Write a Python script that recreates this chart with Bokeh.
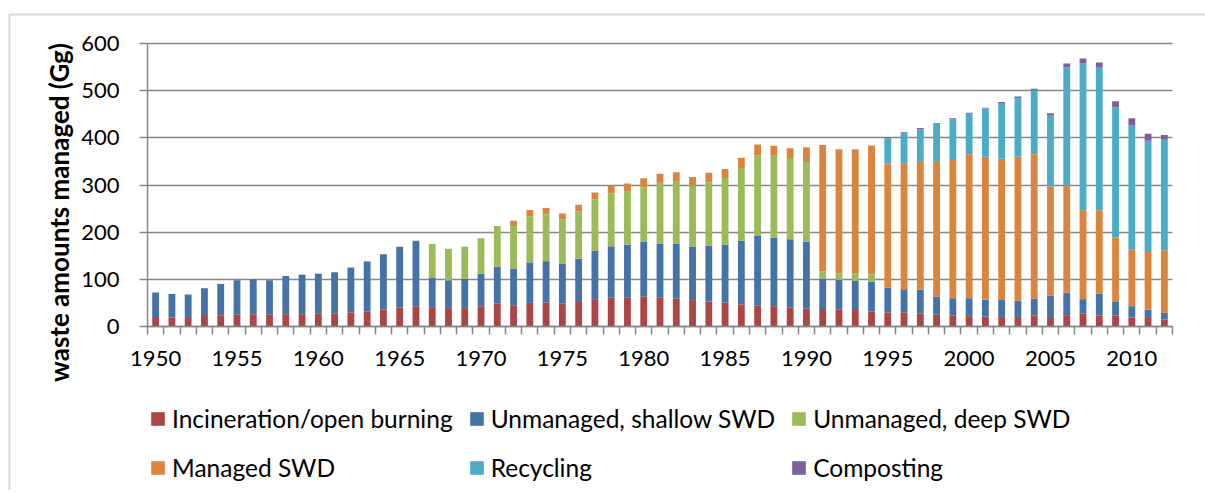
from bokeh.plotting import figure
from bokeh.models import (ColumnDataSource, Range1d, FixedTicker, Legend, LegendItem,
                          BoxAnnotation, Label)
from bokeh.embed import file_html
from bokeh.resources import INLINE

years = list(range(1950, 2013))

incineration = [20, 19, 18, 22, 23, 25, 26, 25, 26, 26, 27, 28, 30, 32, 36, 40, 43, 41, 39, 39,
                43, 49, 45, 50, 51, 49, 52, 58, 61, 62, 64, 61, 59, 56, 53, 51, 47, 44, 43, 40,
                38, 37, 36, 35, 32, 30, 30, 28, 25, 23, 22, 21, 20, 18, 23, 18, 24, 28, 23, 23,
                19, 20, 15]
unmanaged_shallow = [52, 50, 50, 59, 67, 73, 74, 73, 81, 84, 85, 87, 95, 106, 117, 129, 139, 63, 59, 62,
                     69, 78, 78, 86, 87.5, 84.6, 92, 103, 109, 112, 116, 115, 117, 113.6, 118.7, 123, 134.6, 149, 145.7, 145,
                     141.5, 64.8, 63, 62.5, 63.4, 52.7, 49, 49.7, 38.6, 37, 38, 36, 36, 37, 36, 47.7, 48, 30, 47, 29,
                     24, 16, 14]
unmanaged_deep = [0, 0, 0, 0, 0, 0, 0, 0, 0, 0, 0, 0, 0, 0, 0, 0, 0, 71, 67, 68,
                  75, 86, 90, 98, 99.5, 93.4, 100.5, 107.6, 112.7, 111.5, 115, 128.6, 131, 128.4, 134.3, 141, 154.4, 170, 173.3, 172,
                  169.5, 14.8, 14, 14.2, 14.6, 0, 0, 0, 0, 0, 0, 0, 0, 0, 0, 0, 0, 0, 0, 0,
                  0, 0, 0]
managed_swd = [0, 0, 0, 0, 0, 0, 0, 0, 0, 0, 0, 0, 0, 0, 0, 0, 0, 0, 0, 0,
               0, 0, 11, 13, 13, 12.6, 13.5, 15.4, 16.3, 17.5, 19.5, 19.1, 20, 19, 19.8, 19, 21.6, 23, 21, 21,
               31, 268.4, 263, 264.3, 273.7, 262.9, 267, 273.3, 287.4, 293, 305, 303, 299.5, 305, 306, 231.1, 227, 188.6, 176.6, 136.7,
               121, 124, 132.8]
recycling = [0] * 45 + [53.4, 64.6, 67, 78.7, 86.6, 86, 102, 118.5, 124, 136, 149.8, 250, 311.4, 301.8, 276.3,
                        262, 234, 234]
composting = [0] * 45 + [1.5, 2, 3, 2, 2, 2, 1.6, 2, 3.6, 3, 5.7, 8.6, 10, 11.3, 12.7,
                         15.7, 14.5, 10.2]

series_names = ["Incineration/open burning", "Unmanaged, shallow SWD", "Unmanaged, deep SWD",
                "Managed SWD", "Recycling", "Composting"]
series_keys = ["incineration", "unmanaged_shallow", "unmanaged_deep", "managed_swd", "recycling", "composting"]
colors = ["#AA4643", "#4572A7", "#9BBB59", "#DB843D", "#4BACC6", "#7D5F9C"]

x_tick_years = [1950, 1955, 1960, 1965, 1970, 1975, 1980, 1985, 1990, 1995, 2000, 2005, 2010]
y_ticks = [0, 100, 200, 300, 400, 500, 600]
y_label = "waste amounts managed (Gg)"

# layout constants (pixels on the canvas)
W, H = 1205, 490
FRAME_L, FRAME_R, FRAME_T, FRAME_B = 147, 1172, 43, 326

x0, x1 = years[0] - 0.5, years[-1] + 0.5
y0, y1 = y_ticks[0], y_ticks[-1]
kx = (FRAME_R - FRAME_L) / (x1 - x0)
ky = (FRAME_B - FRAME_T) / (y1 - y0)

source = ColumnDataSource(dict(year=years, incineration=incineration,
                               unmanaged_shallow=unmanaged_shallow, unmanaged_deep=unmanaged_deep,
                               managed_swd=managed_swd, recycling=recycling, composting=composting))

p = figure(width=W, height=H, output_backend="svg", toolbar_location=None,
           x_range=Range1d(x0 - FRAME_L / kx, x1 + (W - FRAME_R) / kx),
           y_range=Range1d(y0 - (H - FRAME_B) / ky, y1 + FRAME_T / ky),
           min_border=0)
p.outline_line_color = None
p.background_fill_color = "white"
p.border_fill_color = "white"

grid_col = "#868686"

g = p.ygrid[0]
g.ticker = FixedTicker(ticks=y_ticks, minor_ticks=[])
if "cross_bounds" in g.properties():
    g.cross_bounds = (x0, x1)
    g.grid_line_color = grid_col
    g.grid_line_width = 1.5
else:
    g.grid_line_color = None
    p.segment(x0=[x0] * (len(y_ticks) - 1), x1=[x1] * (len(y_ticks) - 1),
              y0=y_ticks[1:], y1=y_ticks[1:], line_color=grid_col, line_width=1.5)
p.xgrid.grid_line_color = None

renderers = p.vbar_stack(series_keys, x="year", width=0.42, fill_color=colors,
                         line_color=None, source=source)

xa = p.xaxis[0]
xa.fixed_location = 0
xa.bounds = (x0, x1)
xa.ticker = FixedTicker(ticks=x_tick_years,
                        minor_ticks=[y - 0.5 for y in years] + [x1])
xa.major_tick_line_color = None
xa.minor_tick_line_color = grid_col
xa.minor_tick_line_width = 1.5
xa.minor_tick_out = 8
xa.minor_tick_in = 0
xa.major_label_standoff = 16

ya = p.yaxis[0]
ya.fixed_location = x0
ya.bounds = (y0, y1)
ya.ticker = FixedTicker(ticks=y_ticks, minor_ticks=[])
ya.major_tick_out = 8
ya.major_tick_in = 0
ya.major_tick_line_color = grid_col
ya.major_tick_line_width = 1.5
ya.minor_tick_line_color = None
ya.major_label_standoff = 20

for ax in (xa, ya):
    ax.axis_line_color = grid_col
    ax.axis_line_width = 1.5
    ax.major_label_text_font = "Lato"
    ax.major_label_text_font_size = "22px"
    ax.major_label_text_color = "#000000"

ylab = Label(text=y_label, x=58, y=212, x_units="canvas", y_units="canvas",
             angle=90, angle_units="deg", text_align="center", text_baseline="middle",
             text_font="Lato", text_font_style="bold", text_font_size="26px",
             text_color="#000000")
p.add_layout(ylab)

items = [LegendItem(label=n, renderers=[r]) for n, r in zip(series_names, renderers)]
legend = Legend(items=items, location=(149, 6), orientation="horizontal", ncols=3,
                label_text_font="Lato", label_text_font_size="24.5px", label_text_color="#000000",
                glyph_width=17, glyph_height=17, label_standoff=6, spacing=15, label_height=34,
                padding=0, margin=0, border_line_color=None, background_fill_alpha=0)
p.add_layout(legend, "center")

frame_box = BoxAnnotation(left=9, right=W + 50, top=14, bottom=H + 50,
                          left_units="canvas", right_units="canvas",
                          top_units="canvas", bottom_units="canvas",
                          fill_alpha=0, line_color="#7f7f7f", line_width=2)
p.add_layout(frame_box)

open("out.html", "w").write(file_html(p, INLINE))
